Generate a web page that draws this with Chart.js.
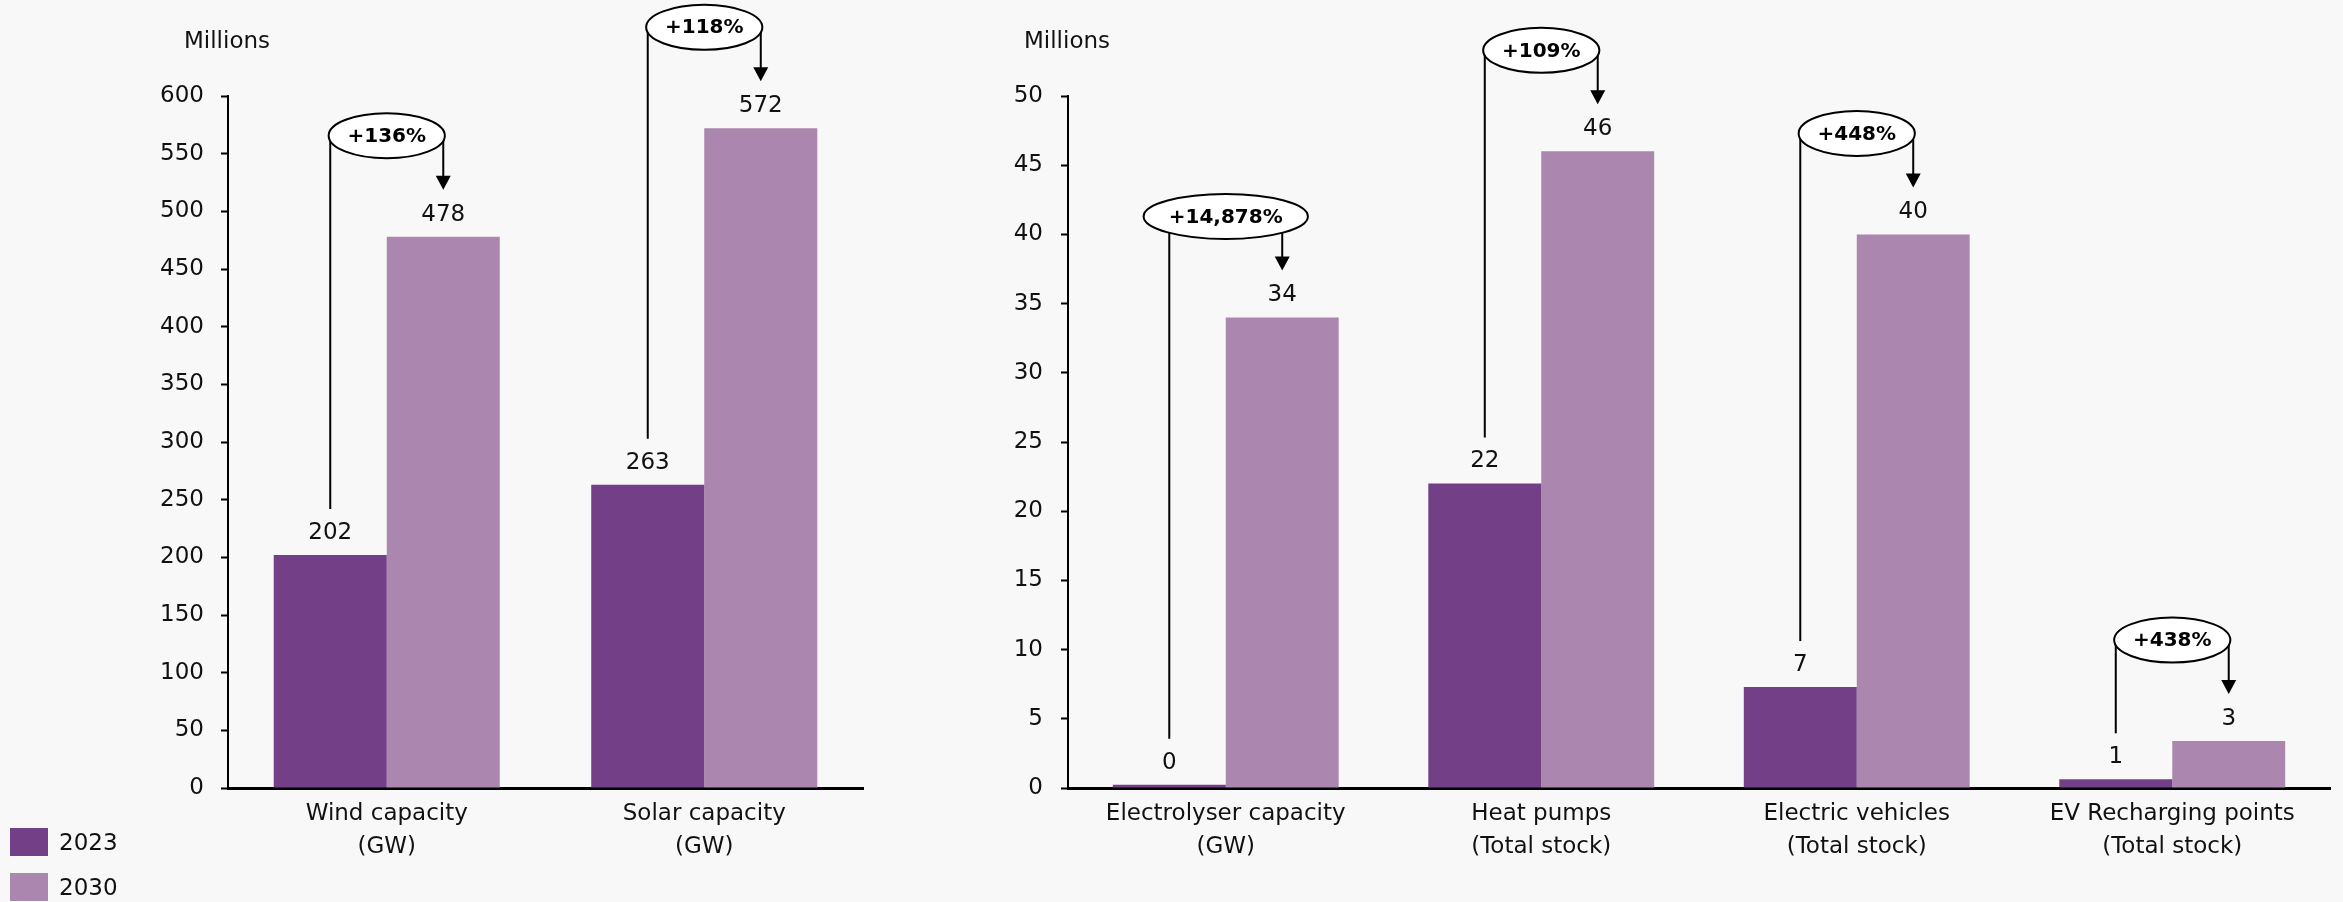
<!DOCTYPE html>
<html>
<head>
<meta charset="utf-8">
<script src="https://cdn.jsdelivr.net/npm/chart.js@4/dist/chart.umd.min.js"></script>
<style>
  html, body { margin: 0; padding: 0; background: #f8f8f8; }
  #wrap { position: relative; width: 2343px; height: 902px; overflow: hidden; background: #f8f8f8; }
  canvas { position: absolute; top: 0; }
  #leftChart { left: 0; }
  #rightChart { left: 950px; }
  .legend { position: absolute; left: 10px; font-family: "DejaVu Sans", sans-serif; font-size: 23px; color: #111; }
  .legend .box { position: absolute; left: 0; width: 38px; height: 28px; }
  .legend .txt { position: absolute; left: 49px; line-height: 28px; white-space: nowrap; }
</style>
</head>
<body>
<div id="wrap">
  <canvas id="leftChart" width="950" height="902"></canvas>
  <canvas id="rightChart" width="1393" height="902"></canvas>
  <div class="legend" id="legend"></div>
</div>
<script>
// Series names and colours
const seriesNames = ['2023', '2030'];
const seriesColors = ['#733f87', '#ab86ae'];

// Power capacity panel
const capacityCategories = [['Wind capacity', '(GW)'], ['Solar capacity', '(GW)']];
const capacity2023 = [202, 263];
const capacity2030 = [478, 572];
const capacityChange = ['+136%', '+118%'];
const capacityTicks = { min: 0, max: 600, step: 50 };

// Electrification panel
const electrificationCategories = [
  ['Electrolyser capacity', '(GW)'],
  ['Heat pumps', '(Total stock)'],
  ['Electric vehicles', '(Total stock)'],
  ['EV Recharging points', '(Total stock)']
];
const electrification2023 = [0.227, 22, 7.3, 0.63];
const electrification2030 = [34, 46, 40, 3.39];
const electrificationChange = ['+14,878%', '+109%', '+448%', '+438%'];
const electrificationTicks = { min: 0, max: 50, step: 5 };

const unitLabel = 'Millions';

const FONT = '"DejaVu Sans", sans-serif';
const TEXT = '#111111';

// Value labels above bars plus the growth callouts (ellipse, connector and arrow)
function makeOverlay(changes, unitX) {
  return {
    id: 'overlay',
    afterDatasetsDraw(chart) {
      const ctx = chart.ctx;
      const m0 = chart.getDatasetMeta(0);
      const m1 = chart.getDatasetMeta(1);
      ctx.save();
      // value labels
      ctx.font = '23px ' + FONT;
      ctx.fillStyle = TEXT;
      ctx.textAlign = 'center';
      ctx.textBaseline = 'middle';
      [m0, m1].forEach((meta, di) => {
        meta.data.forEach((bar, i) => {
          const v = chart.data.datasets[di].data[i];
          ctx.fillText(String(Math.round(v)), bar.x, bar.y - 22);
        });
      });
      // callouts
      ctx.strokeStyle = '#000';
      ctx.lineWidth = 2;
      m0.data.forEach((b0, i) => {
        const b1 = m1.data[i];
        const lab0 = b0.y - 22;
        const lab1 = b1.y - 22;
        const ey = lab1 - 79;
        const cx = (b0.x + b1.x) / 2;
        const tip = lab1 - 25;
        // left connector
        ctx.beginPath();
        ctx.moveTo(b0.x, ey);
        ctx.lineTo(b0.x, lab0 - 24);
        ctx.stroke();
        // right connector with arrow
        ctx.beginPath();
        ctx.moveTo(b1.x, ey);
        ctx.lineTo(b1.x, tip - 12);
        ctx.stroke();
        ctx.fillStyle = '#000';
        ctx.beginPath();
        ctx.moveTo(b1.x - 7.5, tip - 14);
        ctx.lineTo(b1.x + 7.5, tip - 14);
        ctx.lineTo(b1.x, tip);
        ctx.closePath();
        ctx.fill();
        // ellipse with label
        ctx.font = 'bold 20px ' + FONT;
        const tw = ctx.measureText(changes[i]).width;
        const rx = (tw * 1.357 + 9.6) / 2;
        ctx.beginPath();
        ctx.ellipse(cx, ey, rx, 22.5, 0, 0, Math.PI * 2);
        ctx.fillStyle = '#ffffff';
        ctx.fill();
        ctx.stroke();
        ctx.fillStyle = '#000';
        ctx.fillText(changes[i], cx, ey + 1);
      });
      // unit caption
      ctx.font = '23px ' + FONT;
      ctx.textAlign = 'left';
      ctx.fillStyle = TEXT;
      ctx.fillText(unitLabel, unitX, 42);
      ctx.restore();
    }
  };
}

function buildChart(canvasId, cats, a, b, ticks, changes, geom) {
  return new Chart(document.getElementById(canvasId), {
    type: 'bar',
    data: {
      labels: cats,
      datasets: [
        { label: seriesNames[0], data: a, backgroundColor: seriesColors[0] },
        { label: seriesNames[1], data: b, backgroundColor: seriesColors[1] }
      ]
    },
    options: {
      responsive: false,
      animation: false,
      devicePixelRatio: 1,
      layout: { padding: { top: geom.top, right: geom.right, bottom: 0, left: 0 } },
      datasets: { bar: { categoryPercentage: geom.catPct, barPercentage: 1.0 } },
      plugins: { legend: { display: false }, tooltip: { enabled: false } },
      scales: {
        x: {
          grid: { display: false, drawTicks: false },
          border: { display: true, color: '#000', width: 3 },
          ticks: { font: { family: FONT, size: 23, lineHeight: 1.435 }, color: TEXT, padding: 10, maxRotation: 0, autoSkip: false },
          afterFit(scale) { scale.height = geom.xHeight; }
        },
        y: {
          min: ticks.min, max: ticks.max,
          grid: { display: true, drawOnChartArea: false, drawTicks: true, tickLength: 7, tickColor: '#000', tickWidth: 2 },
          border: { display: true, color: '#000', width: 2 },
          ticks: { stepSize: ticks.step, font: { family: FONT, size: 23 }, color: TEXT, padding: geom.tickPad },
          afterFit(scale) { scale.width = geom.yWidth; }
        }
      }
    },
    plugins: [makeOverlay(changes, geom.unitX)]
  });
}

buildChart('leftChart', capacityCategories, capacity2023, capacity2030, capacityTicks, capacityChange,
  { top: 96, right: 87, xHeight: 114, yWidth: 228, catPct: 0.712, tickPad: 17, unitX: 184 });
buildChart('rightChart', electrificationCategories, electrification2023, electrification2030, electrificationTicks, electrificationChange,
  { top: 96, right: 13, xHeight: 114, yWidth: 118, catPct: 0.716, tickPad: 18, unitX: 74 });

// Legend
const legend = document.getElementById('legend');
seriesNames.forEach((name, i) => {
  const row = document.createElement('div');
  row.style.position = 'absolute';
  row.style.top = (828 + i * 45) + 'px';
  const box = document.createElement('div');
  box.className = 'box';
  box.style.background = seriesColors[i];
  const txt = document.createElement('div');
  txt.className = 'txt';
  txt.textContent = name;
  row.appendChild(box);
  row.appendChild(txt);
  legend.appendChild(row);
});
</script>
</body>
</html>
